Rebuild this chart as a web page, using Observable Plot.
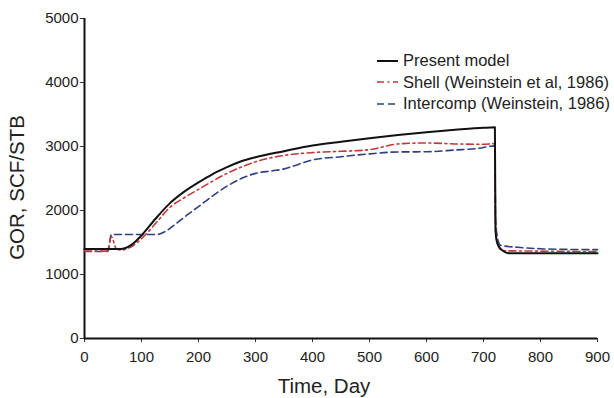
<!DOCTYPE html>
<html>
<head>
<meta charset="utf-8">
<script src="https://cdn.jsdelivr.net/npm/d3@7"></script>
<script src="https://cdn.jsdelivr.net/npm/@observablehq/plot@0.6"></script>
<style>
  body { margin: 0; background: #fff; }
  #wrap { position: relative; width: 614px; height: 398px; font-family: "Liberation Sans", Arial, sans-serif; }
  #legend { position: absolute; left: 377px; top: 50px; font-size: 16.5px; color: #222; }
  #legend .row { display: flex; align-items: center; height: 21.5px; }
  #legend svg { margin-right: 5px; }
</style>
</head>
<body>
<div id="wrap"><div id="legend"></div></div>
<script>
// Data
const seriesNames = ["Present model", "Shell (Weinstein et al, 1986)", "Intercomp (Weinstein, 1986)"];
const seriesColors = ["#111111", "#c0393b", "#2f3f82"];
const seriesDash = [null, "7,3.5,2,3.5", "7,4"];
const seriesWidth = [2, 1.6, 1.6];

const presentDays = [0, 40, 63, 72, 81, 90, 100, 125, 150, 175, 200, 225, 250, 275, 300, 350, 400, 450, 500, 550, 600, 650, 700, 720, 721, 723, 727, 732, 738, 745, 800, 900];
const presentGOR  = [1400, 1400, 1400, 1415, 1455, 1520, 1610, 1875, 2115, 2295, 2440, 2570, 2677, 2770, 2833, 2927, 3016, 3075, 3130, 3180, 3224, 3260, 3292, 3300, 1700, 1530, 1440, 1385, 1350, 1333, 1333, 1333];

const shellDays = [0, 40, 47, 56, 65, 75, 85, 100, 125, 150, 175, 200, 250, 300, 350, 400, 450, 500, 550, 600, 650, 700, 720, 721, 724, 730, 740, 760, 800, 900];
const shellGOR  = [1365, 1365, 1590, 1400, 1380, 1405, 1450, 1560, 1800, 2050, 2200, 2330, 2580, 2760, 2860, 2905, 2925, 2950, 3040, 3055, 3040, 3035, 3045, 1800, 1500, 1390, 1370, 1368, 1365, 1358];

const intercompDays = [0, 41, 47, 128, 140, 160, 180, 200, 225, 250, 275, 300, 330, 350, 375, 400, 450, 500, 550, 600, 650, 690, 720, 721, 724, 730, 760, 800, 850, 900];
const intercompGOR  = [1360, 1360, 1625, 1625, 1665, 1790, 1930, 2060, 2230, 2380, 2500, 2580, 2620, 2650, 2720, 2790, 2840, 2885, 2915, 2918, 2945, 2970, 3010, 1900, 1600, 1455, 1425, 1402, 1392, 1388];

const xTicks = [0, 100, 200, 300, 400, 500, 600, 700, 800, 900];
const yTicks = [0, 1000, 2000, 3000, 4000, 5000];
const xLabel = "Time, Day";
const yLabel = "GOR, SCF/STB";

const allDays = [presentDays, shellDays, intercompDays];
const allGOR = [presentGOR, shellGOR, intercompGOR];
const rows = [];
allDays.forEach((days, s) => days.forEach((d, i) => rows.push({series: seriesNames[s], day: d, gor: allGOR[s][i]})));

const lineMarks = seriesNames.map((name, s) =>
  Plot.line(rows.filter(r => r.series === name), {
    x: "day", y: "gor", stroke: seriesColors[s], strokeWidth: seriesWidth[s],
    strokeDasharray: seriesDash[s], curve: "monotone-x"
  })
);

const chart = Plot.plot({
  width: 614, height: 398,
  marginLeft: 84, marginRight: 17, marginTop: 18, marginBottom: 60,
  style: {fontFamily: "'Liberation Sans', Arial, sans-serif", fontSize: "15px", color: "#222", background: "#fff"},
  x: {domain: [0, 900]},
  y: {domain: [0, 5000]},
  marks: [
    Plot.axisX({ticks: xTicks, tickSize: 4, tickPadding: 9, tickFormat: d3.format("d"), label: null, fontSize: 15, stroke: "#333"}),
    Plot.axisY({ticks: yTicks, tickSize: 4, tickPadding: 2, tickFormat: d3.format("d"), label: null, fontSize: 15, stroke: "#333"}),
    Plot.ruleX([0], {stroke: "#111", strokeWidth: 2}),
    Plot.ruleY([0], {stroke: "#111", strokeWidth: 2}),
    ...lineMarks.slice(1).reverse(),
    lineMarks[0],
    Plot.text([xLabel], {frameAnchor: "bottom", textAnchor: "middle", lineAnchor: "middle", dx: -17, dy: 48, fontSize: 20.5, fill: "#222"}),
    Plot.text([yLabel], {frameAnchor: "left", textAnchor: "middle", lineAnchor: "middle", dx: -67, dy: 9, rotate: -90, fontSize: 20.5, fill: "#222"})
  ]
});
document.getElementById("wrap").prepend(chart);

const legend = document.getElementById("legend");
seriesNames.forEach((name, s) => {
  const row = document.createElement("div");
  row.className = "row";
  row.innerHTML = `<svg width="21" height="6"><line x1="0" x2="21" y1="3" y2="3" stroke="${seriesColors[s]}" stroke-width="${seriesWidth[s]}" ${seriesDash[s] ? `stroke-dasharray="${seriesDash[s]}"` : ""}/></svg><span>${name}</span>`;
  legend.appendChild(row);
});
</script>
</body>
</html>
